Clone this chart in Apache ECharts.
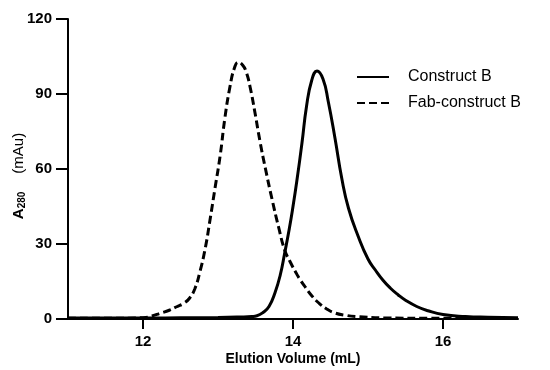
<!DOCTYPE html>
<html><head><meta charset="utf-8">
<script src="https://cdn.jsdelivr.net/npm/echarts@6/dist/echarts.min.js"></script>
<style>html,body{margin:0;padding:0;background:#fff}#c{width:550px;height:370px}</style>
</head><body><div id="c"></div>
<script>
var xTicks = [12, 14, 16];
var yTicks = [0, 30, 60, 90, 120];
var constructX = [11.0,11.5,12.0,12.5,13.0,13.3,13.45,13.52,13.6,13.68,13.76,13.83,13.89,13.95,14.0,14.05,14.12,14.18,14.25,14.32,14.40,14.47,14.56,14.65,14.74,14.87,15.0,15.1,15.2,15.3,15.4,15.5,15.65,15.8,16.0,16.3,16.6,17.0];
var constructY = [0.4,0.4,0.4,0.5,0.6,0.8,1.0,1.3,2.6,5,10.5,17.6,26.5,36,45,55,70.5,85,95.5,99.2,96,87,72.3,56.3,44.3,33,24,19.5,15.5,12.3,9.7,7.5,5,3.3,1.8,1.0,0.7,0.5];
var fabX = [11.0,11.5,12.0,12.12,12.23,12.35,12.45,12.55,12.62,12.69,12.76,12.83,12.89,12.96,13.03,13.09,13.16,13.22,13.27,13.33,13.38,13.43,13.49,13.56,13.63,13.72,13.81,13.89,13.96,14.04,14.1,14.17,14.25,14.34,14.45,14.56,14.7,14.83,15.27,15.8,16.3];
var fabY = [0.3,0.3,0.5,1.2,2.3,3.5,4.9,6.4,8.3,12,19,28.3,39,52.3,65.6,80,93,100.5,102.7,101.5,98.5,92.5,83,71,60.5,48,36.5,27.5,23,18.5,15.5,12.5,9.3,6.5,4,2.4,1.5,1,0.4,0.3,0.3];

function pairs(xs, ys){ return xs.map(function(x,i){ return [x, ys[i]]; }); }
var FONT = 'Liberation Sans, Arial, Helvetica, sans-serif';
var chart = echarts.init(document.getElementById('c'));
chart.setOption({
  animation: false,
  grid: {left: 68, right: 32, top: 19, bottom: 51, outerBoundsMode: 'none', containLabel: false},
  legend: {
    orient: 'vertical', left: 351, top: 64,
    itemWidth: 32, itemHeight: 14, itemGap: 10,
    itemStyle: {opacity: 0},
    textStyle: {fontFamily: FONT, fontSize: 16, color: '#000', padding: [0,0,0,14]},
    data: ['Construct B', 'Fab-construct B']
  },
  xAxis: {
    type: 'value', min: 11, max: 17,
    name: 'Elution Volume (mL)', nameLocation: 'middle', nameGap: 33, nameMoveOverlap: false,
    nameTextStyle: {fontFamily: FONT, fontSize: 14, fontWeight: 'bold', color: '#000'},
    axisLine: {show: true, onZero: false, lineStyle: {color: '#000', width: 2}},
    axisTick: {show: true, length: 10, customValues: xTicks, lineStyle: {color: '#000', width: 2}},
    axisLabel: {customValues: xTicks, margin: 15, fontFamily: FONT, fontSize: 15, fontWeight: 'bold', color: '#000'},
    splitLine: {show: false}
  },
  yAxis: {
    type: 'value', min: 0, max: 120, interval: 30,
    name: '{a|A}{s|280}{n|(mAu)}', nameLocation: 'middle', nameGap: 41, nameRotate: 90, nameMoveOverlap: false,
    nameTextStyle: {
      fontFamily: FONT, color: '#000', padding: [0, 14, 0, 0],
      rich: {
        a: {fontFamily: FONT, fontSize: 15, fontWeight: 'bold', color: '#000'},
        s: {fontFamily: FONT, fontSize: 10, fontWeight: 'bold', color: '#000', verticalAlign: 'bottom', padding: [6,0,0,0]},
        n: {fontFamily: FONT, fontSize: 15, color: '#000', padding: [0,0,0,18]}
      }
    },
    axisLine: {show: true, lineStyle: {color: '#000', width: 2}},
    axisTick: {show: true, length: 12, lineStyle: {color: '#000', width: 2}},
    axisLabel: {margin: 16, fontFamily: FONT, fontSize: 15, fontWeight: 'bold', color: '#000'},
    splitLine: {show: false}
  },
  series: [
    {name: 'Construct B', type: 'line', data: pairs(constructX, constructY), smooth: 0.5,
     symbol: 'none', lineStyle: {color: '#000', width: 3, type: 'solid'}, itemStyle: {color: '#000'}},
    {name: 'Fab-construct B', type: 'line', data: pairs(fabX, fabY), smooth: 0.5,
     symbol: 'none', lineStyle: {color: '#000', width: 3, type: [8, 4]}, itemStyle: {color: '#000'}}
  ]
});
</script></body></html>
